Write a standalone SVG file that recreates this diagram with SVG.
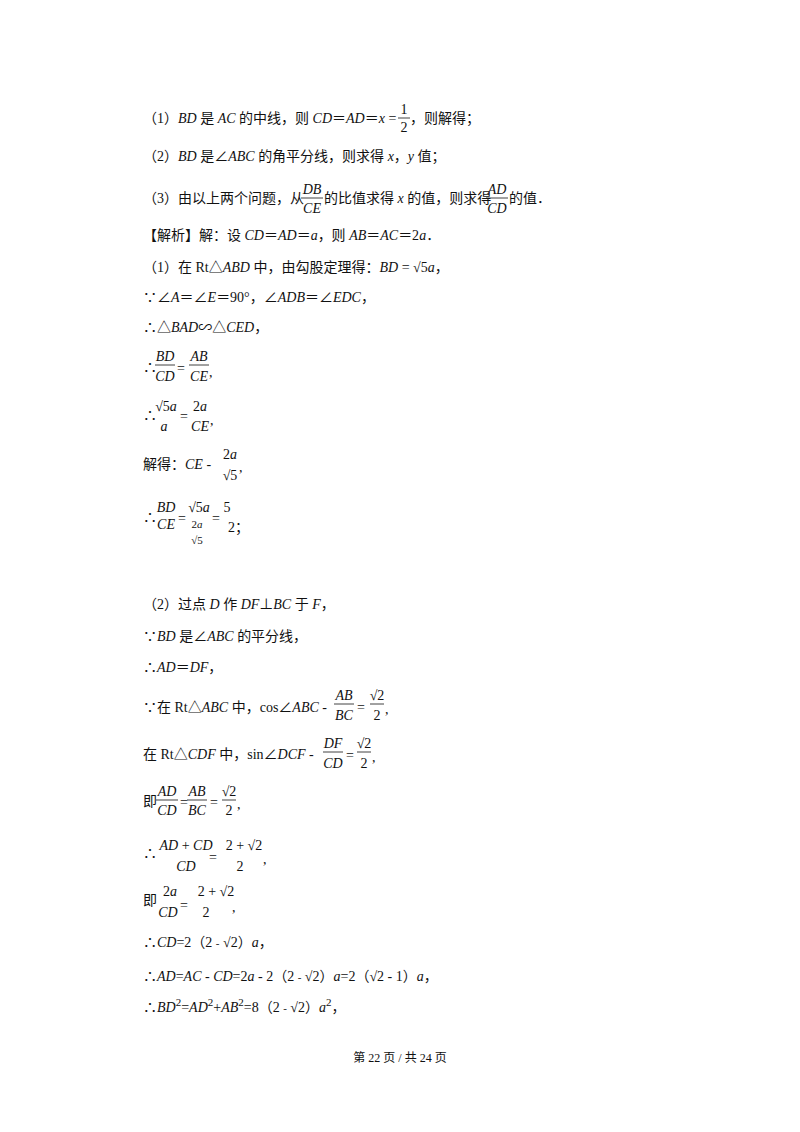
<svg xmlns="http://www.w3.org/2000/svg" width="800" height="1132" viewBox="0 0 800 1132">
<style>
text{font-family:"Liberation Serif","Noto Sans CJK SC",serif;font-size:14px;fill:#111}
.i{font-style:italic}
.s{font-size:11px}
.f{font-size:12px}
line{stroke:#111;stroke-width:0.8}
</style>
<rect width="800" height="1132" fill="#fff"/>
<g id="problem">
<text x="143" y="123">（1）<tspan class="i">BD</tspan> 是 <tspan class="i">AC</tspan> 的中线，则 <tspan class="i">CD</tspan>＝<tspan class="i">AD</tspan>＝<tspan class="i">x</tspan>  =</text>
<text x="404" y="114" text-anchor="middle">1</text><line x1="398" y1="118" x2="410" y2="118"/><text x="404" y="132" text-anchor="middle">2</text>
<text x="410" y="123">，则解得；</text>
<text x="143" y="161">（2）<tspan class="i">BD</tspan> 是∠<tspan class="i">ABC</tspan> 的角平分线，则求得 <tspan class="i">x</tspan>，<tspan class="i">y</tspan> 值；</text>
<text x="143" y="203">（3）由以上两个问题，从</text>
<text x="312" y="194" text-anchor="middle" class="i">DB</text><line x1="301" y1="198" x2="323" y2="198"/><text x="312" y="213" text-anchor="middle" class="i">CE</text>
<text x="324" y="203">的比值求得 <tspan class="i">x</tspan> 的值，则求得</text>
<text x="497" y="194" text-anchor="middle" class="i">AD</text><line x1="486" y1="198" x2="508" y2="198"/><text x="497" y="213" text-anchor="middle" class="i">CD</text>
<text x="509" y="203">的值．</text>
</g>
<g id="part1">
<text x="143" y="240">【解析】解：设 <tspan class="i">CD</tspan>＝<tspan class="i">AD</tspan>＝<tspan class="i">a</tspan>，则 <tspan class="i">AB</tspan>＝<tspan class="i">AC</tspan>＝2<tspan class="i">a</tspan>．</text>
<text x="143" y="272">（1）在 Rt△<tspan class="i">ABD</tspan> 中，由勾股定理得：<tspan class="i">BD</tspan>  = √5<tspan class="i">a</tspan>，</text>
<text x="143" y="302">∵∠<tspan class="i">A</tspan>＝∠<tspan class="i">E</tspan>＝90°，∠<tspan class="i">ADB</tspan>＝∠<tspan class="i">EDC</tspan>，</text>
<text x="143" y="332">∴△<tspan class="i">BAD</tspan>∽△<tspan class="i">CED</tspan>，</text>
<text x="143" y="372">∴</text>
<text x="165" y="361" text-anchor="middle" class="i">BD</text><line x1="155" y1="365" x2="175" y2="365"/><text x="165" y="381" text-anchor="middle" class="i">CD</text>
<text x="177" y="373">=</text>
<text x="199" y="361" text-anchor="middle" class="i">AB</text><line x1="189" y1="365" x2="209" y2="365"/><text x="199" y="381" text-anchor="middle" class="i">CE</text>
<text x="209" y="377">,</text>
<text x="143" y="420">∴</text>
<text x="166" y="411" text-anchor="middle">√5<tspan class="i">a</tspan></text>
<text x="164" y="431" text-anchor="middle" class="i">a</text>
<text x="180" y="421">=</text>
<text x="200" y="411" text-anchor="middle">2<tspan class="i">a</tspan></text><text x="200" y="431" text-anchor="middle" class="i">CE</text>
<text x="210" y="425">,</text>
<text x="143" y="469">解得：<tspan class="i">CE</tspan>  -</text>
<text x="230" y="459" text-anchor="middle">2<tspan class="i">a</tspan></text><text x="230" y="480" text-anchor="middle">√5</text>
<text x="239" y="472">,</text>
<text x="143" y="522">∴</text>
<text x="166" y="512" text-anchor="middle" class="i">BD</text><text x="166" y="529" text-anchor="middle" class="i">CE</text>
<text x="178" y="523">=</text>
<text x="199" y="512" text-anchor="middle">√5<tspan class="i">a</tspan></text>
<text x="197" y="528" text-anchor="middle" class="s">2<tspan class="i">a</tspan></text>
<text x="197" y="544" text-anchor="middle" class="s">√5</text>
<text x="212" y="523">=</text>
<text x="227" y="512" text-anchor="middle">5</text><text x="228" y="532">2；</text>
</g>
<g id="part2">
<text x="143" y="609">（2）过点 <tspan class="i">D</tspan> 作 <tspan class="i">DF</tspan>⊥<tspan class="i">BC</tspan> 于 <tspan class="i">F</tspan>，</text>
<text x="143" y="641">∵<tspan class="i">BD</tspan> 是∠<tspan class="i">ABC</tspan> 的平分线，</text>
<text x="143" y="672">∴<tspan class="i">AD</tspan>＝<tspan class="i">DF</tspan>，</text>
<text x="143" y="712">∵在 Rt△<tspan class="i">ABC</tspan> 中，cos∠<tspan class="i">ABC</tspan>  -</text>
<text x="344" y="700" text-anchor="middle" class="i">AB</text><line x1="334" y1="704" x2="354" y2="704"/><text x="344" y="720" text-anchor="middle" class="i">BC</text>
<text x="357" y="712">=</text>
<text x="377" y="700" text-anchor="middle">√2</text><line x1="370" y1="704" x2="384" y2="704"/><text x="377" y="720" text-anchor="middle">2</text>
<text x="385" y="714">,</text>
<text x="143" y="759">在 Rt△<tspan class="i">CDF</tspan> 中，sin∠<tspan class="i">DCF</tspan>  -</text>
<text x="333" y="748" text-anchor="middle" class="i">DF</text><line x1="323" y1="752" x2="343" y2="752"/><text x="333" y="768" text-anchor="middle" class="i">CD</text>
<text x="346" y="760">=</text>
<text x="364" y="748" text-anchor="middle">√2</text><line x1="357" y1="752" x2="371" y2="752"/><text x="364" y="768" text-anchor="middle">2</text>
<text x="372" y="762">,</text>
<text x="143" y="806">即</text>
<text x="167" y="796" text-anchor="middle" class="i">AD</text><line x1="156" y1="800" x2="178" y2="800"/><text x="167" y="815" text-anchor="middle" class="i">CD</text>
<text x="180" y="807">=</text>
<text x="197" y="796" text-anchor="middle" class="i">AB</text><line x1="187" y1="800" x2="207" y2="800"/><text x="197" y="815" text-anchor="middle" class="i">BC</text>
<text x="210" y="807">=</text>
<text x="229" y="796" text-anchor="middle">√2</text><line x1="222" y1="800" x2="236" y2="800"/><text x="229" y="815" text-anchor="middle">2</text>
<text x="237" y="809">,</text>
<text x="143" y="858">∴</text>
<text x="186" y="850" text-anchor="middle"><tspan class="i">AD</tspan> + <tspan class="i">CD</tspan></text>
<text x="186" y="871" text-anchor="middle" class="i">CD</text>
<text x="209" y="862">=</text>
<text x="244" y="850" text-anchor="middle">2 + √2</text>
<text x="240" y="871" text-anchor="middle">2</text>
<text x="263" y="864">,</text>
<text x="143" y="905">即</text>
<text x="170" y="896" text-anchor="middle">2<tspan class="i">a</tspan></text>
<text x="168" y="917" text-anchor="middle" class="i">CD</text>
<text x="180" y="910">=</text>
<text x="216" y="896" text-anchor="middle">2 + √2</text>
<text x="206" y="917" text-anchor="middle">2</text>
<text x="232" y="912">,</text>
<text x="143" y="947">∴<tspan class="i">CD</tspan>=2（2 <tspan class="s">-</tspan> √2）<tspan class="i">a</tspan>，</text>
<text x="143" y="981">∴<tspan class="i">AD</tspan>=<tspan class="i">AC</tspan> - <tspan class="i">CD</tspan>=2<tspan class="i">a</tspan> - 2（2 <tspan class="s">-</tspan> √2）<tspan class="i">a</tspan>=2（√2 - 1）<tspan class="i">a</tspan>，</text>
<text x="143" y="1012">∴<tspan class="i">BD</tspan><tspan class="s" dy="-6">2</tspan><tspan dy="6">=</tspan><tspan class="i">AD</tspan><tspan class="s" dy="-6">2</tspan><tspan dy="6">+</tspan><tspan class="i">AB</tspan><tspan class="s" dy="-6">2</tspan><tspan dy="6">=8（2 </tspan><tspan class="s">-</tspan> √2）<tspan class="i">a</tspan><tspan class="s" dy="-6">2</tspan><tspan dy="6">，</tspan></text>
</g>
<g id="footer">
<text x="400" y="1062" text-anchor="middle" class="f">第 22 页 / 共 24 页</text>
</g>
</svg>
